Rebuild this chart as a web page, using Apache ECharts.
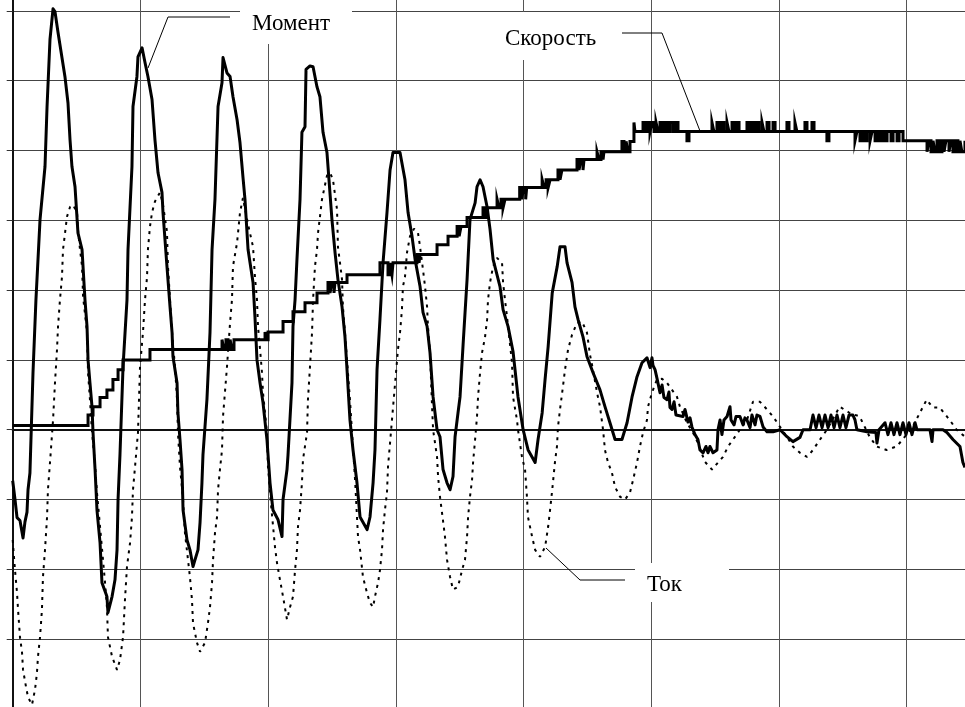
<!DOCTYPE html>
<html><head><meta charset="utf-8">
<script src="https://cdn.jsdelivr.net/npm/echarts@6/dist/echarts.min.js"></script>
<style>html,body{margin:0;padding:0;background:#fff;overflow:hidden;width:965px;height:707px}
#c{position:absolute;left:0;top:-59px;width:1040px;height:770px}</style>
</head><body><div id="c"></div>
<script>
// time in ms (grid step 100 ms), values in relative units (grid step 1)
const torque = [[0,-0.73],[1.8,-1.00],[3.4,-1.26],[5.7,-1.30],[8.1,-1.55],[9.6,-1.32],[11.2,-1.18],[12.0,-0.86],[13.5,-0.62],[15.9,0.82],[18.2,1.86],[21.4,3.01],[25.3,3.77],[26.9,4.63],[29.2,5.59],[31.6,6.03],[33.1,5.99],[35.5,5.69],[40.9,5.06],[43.3,4.68],[44.9,4.15],[46.4,3.77],[48.8,3.48],[51.1,2.82],[54.3,2.58],[56.6,1.86],[58.2,1.48],[59.0,1.00],[60.5,0.67],[62.1,0.33],[62.9,-0.04],[64.5,-0.57],[66.0,-1.15],[68.4,-1.62],[69.9,-2.19],[73.8,-2.39],[74.6,-2.62],[77.8,-2.39],[80.1,-2.15],[81.7,-1.72],[82.5,-1.00],[84.0,-0.36],[86.4,0.90],[89.5,1.86],[90.3,2.58],[93.4,3.77],[94.2,4.63],[97.3,5.06],[98.1,5.34],[101.3,5.47],[103.6,5.26],[105.9,5.06],[109.1,4.73],[111.4,4.15],[113.8,3.68],[116.9,3.40],[117.7,3.11],[120.8,2.34],[123.2,1.76],[124.8,1.39],[125.5,1.05],[128.7,0.67],[129.4,0.24],[131.0,-0.14],[132.6,-0.57],[133.4,-1.15],[136.5,-1.58],[138.8,-1.72],[141.2,-1.96],[142.8,-1.86],[145.1,-1.72],[146.7,-1.33],[148.2,-0.76],[149.0,-0.36],[152.1,0.43],[154.5,1.39],[156.1,2.58],[158.4,3.30],[160.8,4.63],[163.9,4.97],[164.7,5.33],[167.8,5.11],[170.2,5.06],[172.5,4.77],[175.7,4.44],[178.0,4.11],[180.3,3.62],[181.9,3.30],[184.3,2.58],[188.2,2.11],[189.7,1.62],[191.3,1.00],[193.7,0.67],[196.0,0.39],[199.1,-0.14],[201.5,-0.76],[203.8,-1.15],[207.8,-1.29],[210.9,-1.53],[211.7,-1.00],[214.8,-0.57],[215.6,-0.36],[218.7,0.67],[219.5,1.48],[221.1,1.86],[222.6,2.44],[225.0,3.30],[226.5,4.26],[228.9,4.34],[229.7,5.16],[232.8,5.21],[235.2,5.20],[238.3,4.91],[240.6,4.77],[243.0,4.26],[246.1,3.97],[250.0,3.01],[252.4,2.54],[254.7,2.15],[257.9,1.76],[260.2,1.33],[261.8,0.86],[264.1,0.14],[266.5,-0.29],[269.6,-0.76],[272.0,-1.25],[277.5,-1.43],[279.8,-1.25],[282.2,-0.76],[283.7,-0.29],[285.3,0.86],[287.6,1.58],[290.0,2.39],[293.1,3.11],[295.5,3.72],[297.8,3.97],[303.3,3.97],[307.2,3.58],[309.6,3.11],[312.7,2.77],[315.1,2.44],[319.0,2.05],[321.3,1.68],[324.5,1.48],[326.8,1.10],[329.2,0.47],[332.3,0.00],[334.6,-0.10],[337.0,-0.57],[340.1,-0.76],[342.5,-0.86],[344.8,-0.67],[346.4,-0.10],[348.7,0.24],[350.3,0.47],[352.7,1.22],[355.8,2.15],[358.1,3.01],[362.1,3.25],[363.6,3.48],[366.0,3.58],[368.3,3.48],[371.5,3.19],[373.8,2.87],[376.2,2.44],[381.6,2.05],[384.0,1.72],[387.9,1.48],[391.8,1.12],[395.7,0.47],[399.7,0.00],[403.6,-0.29],[406.7,-0.39],[409.1,-0.47],[411.4,-0.14],[414.6,0.24],[416.9,0.72],[419.3,1.19],[422.5,1.96],[426.4,2.34],[428.6,2.62],[432.5,2.62],[434.1,2.39],[438.0,2.11],[440.3,1.76],[442.7,1.58],[446.6,1.33],[449.7,1.05],[454.4,0.82],[459.9,0.57],[463.8,0.33],[467.7,0.10],[471.7,-0.14],[477.1,-0.14],[481.1,0.10],[485.0,0.47],[488.9,0.76],[492.8,0.96],[496.7,1.03],[499.1,0.89],[500.6,1.03],[501.4,0.92],[503.0,0.86],[504.5,0.74],[506.1,0.60],[506.9,0.53],[508.5,0.64],[510.0,0.46],[512.4,0.43],[513.9,0.54],[514.7,0.32],[516.3,0.29],[517.9,0.40],[519.4,0.21],[520.2,0.19],[524.9,0.19],[526.5,0.29],[528.8,0.11],[530.4,0.17],[531.9,0.04],[534.3,-0.07],[536.6,-0.14],[538.2,-0.29],[540.6,-0.33],[542.9,-0.24],[544.5,-0.33],[546.0,-0.24],[548.4,-0.33],[551.5,-0.29],[552.3,0.00],[553.9,0.14],[555.4,-0.07],[557.0,0.14],[559.4,0.19],[561.7,0.33],[562.5,0.14],[564.9,0.07],[566.4,0.19],[569.5,0.19],[571.9,0.07],[573.4,0.17],[575.0,0.14],[577.4,0.03],[578.9,0.21],[581.3,0.07],[582.8,0.21],[585.2,0.19],[587.6,0.04],[590.7,-0.03],[595.4,-0.03],[600.9,0.00],[606.3,-0.10],[611.0,-0.17],[616.5,-0.11],[618.9,0.00],[624.4,0.00],[626.7,0.21],[629.1,0.03],[631.4,0.21],[633.8,0.03],[636.1,0.21],[638.5,0.03],[640.8,0.21],[643.2,0.03],[645.5,0.21],[647.8,0.03],[650.2,0.21],[652.5,0.03],[654.9,0.21],[658.0,0.21],[659.6,0.14],[661.1,0.00],[668.9,-0.03],[676.0,-0.04],[676.8,-0.19],[678.4,0.00],[683.1,0.10],[685.4,-0.07],[687.8,0.10],[690.1,-0.07],[692.5,0.10],[694.8,-0.07],[697.2,0.10],[699.5,-0.07],[701.9,0.10],[704.2,-0.07],[706.6,0.10],[708.1,0.00],[718.3,0.00],[719.9,-0.17],[720.7,0.00],[728.5,0.00],[731.6,-0.04],[736.3,-0.14],[741.8,-0.24],[744.1,-0.47],[745.7,-0.54]];

const current = [[0,-1.58],[1.8,-2.01],[3.4,-2.34],[4.2,-2.58],[5.7,-2.97],[7.3,-3.19],[8.1,-3.44],[10.4,-3.68],[12.0,-3.83],[15.1,-3.94],[17.5,-3.72],[19.0,-3.48],[19.8,-3.25],[21.4,-2.97],[22.9,-2.58],[23.7,-2.11],[25.3,-1.72],[26.9,-1.25],[27.6,-0.86],[29.2,-0.47],[31.6,0.14],[33.1,0.67],[34.7,1.15],[35.5,1.48],[37.0,1.86],[38.6,2.19],[39.4,2.58],[41.0,2.82],[42.5,3.05],[44.9,3.19],[47.2,3.22],[50.4,3.11],[51.1,2.87],[52.7,2.58],[54.3,2.34],[55.1,1.91],[58.2,1.39],[59.0,0.82],[60.5,0.43],[62.1,-0.04],[64.5,-0.50],[66.0,-0.90],[68.4,-1.39],[70.7,-1.86],[72.3,-2.19],[73.8,-2.54],[74.6,-2.97],[77.8,-3.25],[81.7,-3.44],[84.0,-3.30],[86.4,-2.97],[87.9,-2.44],[89.5,-1.96],[91.9,-1.62],[93.4,-1.25],[94.2,-0.86],[95.8,-0.53],[98.1,-0.04],[99.7,0.90],[102.0,1.39],[103.6,1.86],[105.2,2.19],[105.9,2.58],[107.5,2.91],[109.1,3.11],[111.4,3.27],[115.4,3.40],[117.7,3.22],[120.8,2.84],[121.6,2.34],[123.2,1.86],[124.8,1.39],[127.1,0.90],[128.7,0.43],[129.4,-0.04],[131.0,-0.53],[133.4,-1.00],[134.9,-1.48],[138.8,-2.11],[140.4,-2.44],[141.2,-2.77],[144.3,-3.05],[146.7,-3.18],[150.6,-3.05],[152.9,-2.77],[154.5,-2.54],[156.1,-2.19],[156.9,-1.86],[158.4,-1.48],[160.0,-1.25],[160.8,-0.86],[162.3,-0.57],[163.9,-0.29],[164.7,0.19],[167.8,0.90],[170.2,1.53],[171.7,1.86],[172.5,2.34],[175.7,2.68],[178.0,3.11],[180.3,3.32],[184.3,2.94],[188.2,2.62],[189.7,2.19],[191.3,1.86],[192.1,1.48],[193.7,1.15],[195.2,0.82],[196.0,0.53],[199.1,-0.04],[199.9,-0.53],[202.3,-1.07],[205.4,-1.68],[207.0,-1.91],[209.3,-2.15],[211.7,-2.39],[214.8,-2.72],[217.2,-2.54],[219.5,-2.39],[221.1,-2.01],[222.6,-1.72],[223.4,-1.39],[225.0,-1.15],[226.5,-0.76],[227.3,-0.43],[230.5,-0.04],[231.2,0.43],[232.8,0.90],[234.4,1.39],[235.2,1.86],[236.7,2.34],[238.3,2.58],[239.1,2.82],[240.6,3.05],[242.2,3.30],[246.1,3.64],[248.5,3.68],[250.8,3.58],[254.0,3.15],[254.7,2.62],[256.3,2.39],[257.9,2.15],[258.6,1.76],[260.2,1.39],[261.8,1.00],[264.1,0.43],[268.1,-0.72],[270.4,-1.53],[272.0,-1.72],[274.3,-2.11],[277.5,-2.34],[279.8,-2.48],[282.2,-2.54],[283.7,-2.39],[286.1,-2.19],[287.6,-2.01],[289.2,-1.72],[290.0,-1.43],[291.5,-1.15],[293.1,-0.90],[293.9,-0.53],[297.0,0.14],[301.7,1.15],[303.3,1.39],[304.8,1.72],[305.6,2.05],[307.2,2.19],[308.8,2.54],[311.1,2.77],[314.3,2.88],[317.4,2.82],[319.0,2.62],[321.3,2.29],[322.9,2.05],[324.5,1.76],[325.2,1.48],[326.8,1.10],[328.4,0.33],[329.2,0.00],[332.3,-0.39],[333.1,-0.67],[334.6,-0.96],[336.2,-1.19],[338.5,-1.53],[340.1,-1.86],[342.5,-2.11],[344.8,-2.29],[348.7,-2.25],[351.9,-2.01],[354.2,-1.86],[355.8,-1.53],[356.6,-1.25],[358.1,-0.96],[359.7,-0.72],[360.5,-0.47],[362.1,-0.14],[363.6,0.19],[364.4,0.47],[366.0,0.82],[367.5,1.10],[369.9,1.33],[371.5,1.58],[372.2,1.86],[373.8,2.11],[376.2,2.34],[379.3,2.46],[383.2,2.39],[384.0,2.11],[385.5,1.86],[387.1,1.62],[387.9,1.48],[391.0,0.96],[391.8,0.47],[394.9,0.14],[395.7,0.00],[398.8,-0.39],[401.2,-0.57],[402.7,-0.96],[403.5,-1.25],[406.7,-1.53],[409.1,-1.72],[412.9,-1.82],[416.9,-1.68],[419.3,-1.39],[420.8,-1.15],[422.5,-0.86],[424.6,-0.47],[426.2,-0.24],[427.0,0.04],[428.6,0.29],[430.9,0.62],[432.5,0.86],[434.9,1.15],[438.0,1.36],[441.9,1.53],[445.8,1.55],[449.7,1.39],[452.1,1.07],[454.4,0.86],[457.6,0.53],[459.9,0.33],[462.3,0.00],[463.8,-0.29],[466.2,-0.47],[469.3,-0.62],[471.7,-0.82],[475.6,-0.96],[479.5,-1.00],[483.4,-0.90],[485.8,-0.72],[488.9,-0.47],[491.2,-0.24],[493.6,-0.04],[496.7,0.14],[497.5,0.33],[500.6,0.53],[504.5,0.72],[508.5,0.73],[512.4,0.67],[516.3,0.57],[520.2,0.47],[522.5,0.33],[528.0,0.10],[532.7,-0.04],[536.6,-0.19],[542.1,-0.46],[547.6,-0.57],[552.3,-0.47],[556.2,-0.39],[560.2,-0.24],[564.1,-0.14],[569.5,0.00],[575.0,0.14],[579.7,0.40],[585.2,0.40],[590.7,0.29],[595.4,0.19],[600.9,0.04],[606.3,-0.10],[611.0,-0.24],[616.5,-0.33],[622.0,-0.39],[626.7,-0.29],[632.2,-0.14],[637.6,0.00],[647.6,0.33],[655.4,0.24],[663.2,0.19],[671.0,-0.10],[676.5,-0.24],[684.3,-0.29],[692.2,-0.24],[696.9,-0.14],[704.7,0.04],[715.7,0.43],[720.4,0.32],[725.8,0.32],[733.7,0.14],[739.2,0.00],[745.7,-0.10]];

// speed: [time where level starts, level]
const speed = [[0,0.06],[59.0,0.21],[62.9,0.33],[68.4,0.46],[73.8,0.57],[78.5,0.72],[82.5,0.86],[86.4,1.00],[107.5,1.15],[163.9,1.29],[165.4,1.15],[167.0,1.29],[168.6,1.15],[170.2,1.29],[171.7,1.15],[173.3,1.29],[197.6,1.40],[198.4,1.29],[200.0,1.40],[211.7,1.55],[219.5,1.69],[228.9,1.82],[238.3,1.96],[246.9,2.11],[248.5,1.96],[250.0,2.11],[251.6,1.96],[252.4,2.11],[261.8,2.22],[287.6,2.39],[293.9,2.22],[295.5,2.39],[297.0,2.22],[297.8,2.39],[316.6,2.51],[318.2,2.39],[319.0,2.51],[332.3,2.65],[340.9,2.77],[348.0,2.91],[349.6,2.77],[351.1,2.91],[355.8,3.04],[368.3,3.18],[369.9,3.04],[371.5,3.18],[379.3,3.30],[380.8,3.18],[382.4,3.30],[384.0,3.18],[385.5,3.30],[397.0,3.47],[398.6,3.30],[400.1,3.47],[401.7,3.30],[402.5,3.47],[414.6,3.58],[416.1,3.47],[417.7,3.58],[419.3,3.47],[420.8,3.58],[427.0,3.72],[428.6,3.58],[430.1,3.72],[441.9,3.87],[443.5,3.72],[445.0,3.87],[446.6,3.72],[447.4,3.87],[457.6,3.98],[459.1,3.87],[460.7,3.98],[462.3,3.87],[463.0,3.98],[477.1,4.13],[478.7,3.98],[480.3,4.13],[481.8,3.98],[483.4,4.13],[486.5,4.40],[487.3,4.27],[493.6,4.40],[495.2,4.27],[497.5,4.40],[499.1,4.27],[500.6,4.40],[502.2,4.27],[503.8,4.40],[505.3,4.27],[506.9,4.40],[508.5,4.27],[510.8,4.40],[512.4,4.27],[514.7,4.40],[517.1,4.27],[519.4,4.40],[521.0,4.27],[528.0,4.14],[529.6,4.27],[547.6,4.40],[549.1,4.27],[551.5,4.40],[553.1,4.27],[555.4,4.40],[557.0,4.27],[559.4,4.40],[560.9,4.27],[563.3,4.40],[564.9,4.27],[567.2,4.40],[568.8,4.27],[575.0,4.40],[576.6,4.27],[578.9,4.40],[580.5,4.27],[582.8,4.40],[584.4,4.27],[586.8,4.40],[588.3,4.27],[590.7,4.40],[592.3,4.27],[595.4,4.40],[597.0,4.27],[606.3,4.40],[607.9,4.27],[612.6,4.40],[614.1,4.27],[620.4,4.40],[622.0,4.27],[625.9,4.40],[627.5,4.27],[637.6,4.14],[639.2,4.27],[659.6,4.14],[661.1,4.27],[663.5,4.14],[665.1,4.27],[667.4,4.14],[669.0,4.27],[671.4,4.14],[672.9,4.27],[675.3,4.14],[676.9,4.27],[679.2,4.14],[680.8,4.27],[683.1,4.14],[684.7,4.27],[687.8,4.14],[689.4,4.27],[692.5,4.14],[694.1,4.27],[697.2,4.14],[716.0,3.98],[717.5,4.14],[719.1,3.98],[720.7,4.14],[722.2,3.98],[723.8,4.14],[726.1,3.98],[727.7,4.14],[729.3,3.98],[730.8,4.14],[733.2,3.98],[734.7,4.14],[736.3,3.98],[737.9,4.14],[740.2,3.98],[741.8,4.14],[743.3,3.98],[745.7,4.14]];

const labelFont = '23px "Liberation Serif", "Times New Roman", serif';
const OY = 59; // container is shifted up by this many pixels

const chart = echarts.init(document.getElementById('c'), null, {renderer: 'canvas'});
chart.setOption({
  animation: false,
  backgroundColor: '#fff',
  grid: {left: 12.7, top: 0, width: 1021.6, height: 768},
  xAxis: {
    type: 'value', min: 0, max: 800, interval: 100,
    axisLine: {show: true, onZero: true, lineStyle: {color: '#111', width: 2}},
    axisTick: {show: false}, axisLabel: {show: false},
    splitLine: {show: true, lineStyle: {color: '#555', width: 1}}
  },
  yAxis: {
    type: 'value', min: -4, max: 7, interval: 1,
    axisLine: {show: true, lineStyle: {color: '#111', width: 2}},
    axisTick: {show: true, length: 6, lineStyle: {color: '#333', width: 1}},
    axisLabel: {show: false},
    splitLine: {show: true, lineStyle: {color: '#444', width: 1}}
  },
  series: [
    {name: 'Ток', type: 'line', data: current, showSymbol: false, silent: true, z: 2,
     lineStyle: {color: '#000', width: 2, type: [3, 5], cap: 'butt'}},
    {name: 'Скорость', type: 'line', step: 'end', data: speed, showSymbol: false, silent: true, z: 3,
     lineStyle: {color: '#000', width: 3, join: 'miter'}},
    {name: 'Момент', type: 'line', data: torque, showSymbol: false, silent: true, z: 4,
     lineStyle: {color: '#000', width: 3, join: 'round'}}
  ],
  graphic: [
    {type: 'rect', z: 100, shape: {x: 240, y: 0, width: 112, height: 44 + OY}, style: {fill: '#fff'}},
    {type: 'rect', z: 100, shape: {x: 495, y: 12 + OY, width: 118, height: 48}, style: {fill: '#fff'}},
    {type: 'rect', z: 100, shape: {x: 635, y: 563 + OY, width: 94, height: 39}, style: {fill: '#fff'}},
    {type: 'text', z: 101, x: 252, y: 24 + OY, style: {text: 'Момент', font: labelFont, fill: '#000', verticalAlign: 'middle'}},
    {type: 'text', z: 101, x: 505, y: 39 + OY, style: {text: 'Скорость', font: labelFont, fill: '#000', verticalAlign: 'middle'}},
    {type: 'text', z: 101, x: 647, y: 585 + OY, style: {text: 'Ток', font: labelFont, fill: '#000', verticalAlign: 'middle'}},
    {type: 'polyline', z: 101, shape: {points: [[148, 68 + OY], [168, 17 + OY], [230, 17 + OY]]}, style: {stroke: '#000', lineWidth: 1, fill: null}},
    {type: 'polyline', z: 101, shape: {points: [[622, 33 + OY], [662, 33 + OY], [700, 131 + OY]]}, style: {stroke: '#000', lineWidth: 1, fill: null}},
    {type: 'polyline', z: 101, shape: {points: [[546, 548 + OY], [580, 580 + OY], [625, 580 + OY]]}, style: {stroke: '#000', lineWidth: 1, fill: null}}
  ]
});
</script></body></html>
